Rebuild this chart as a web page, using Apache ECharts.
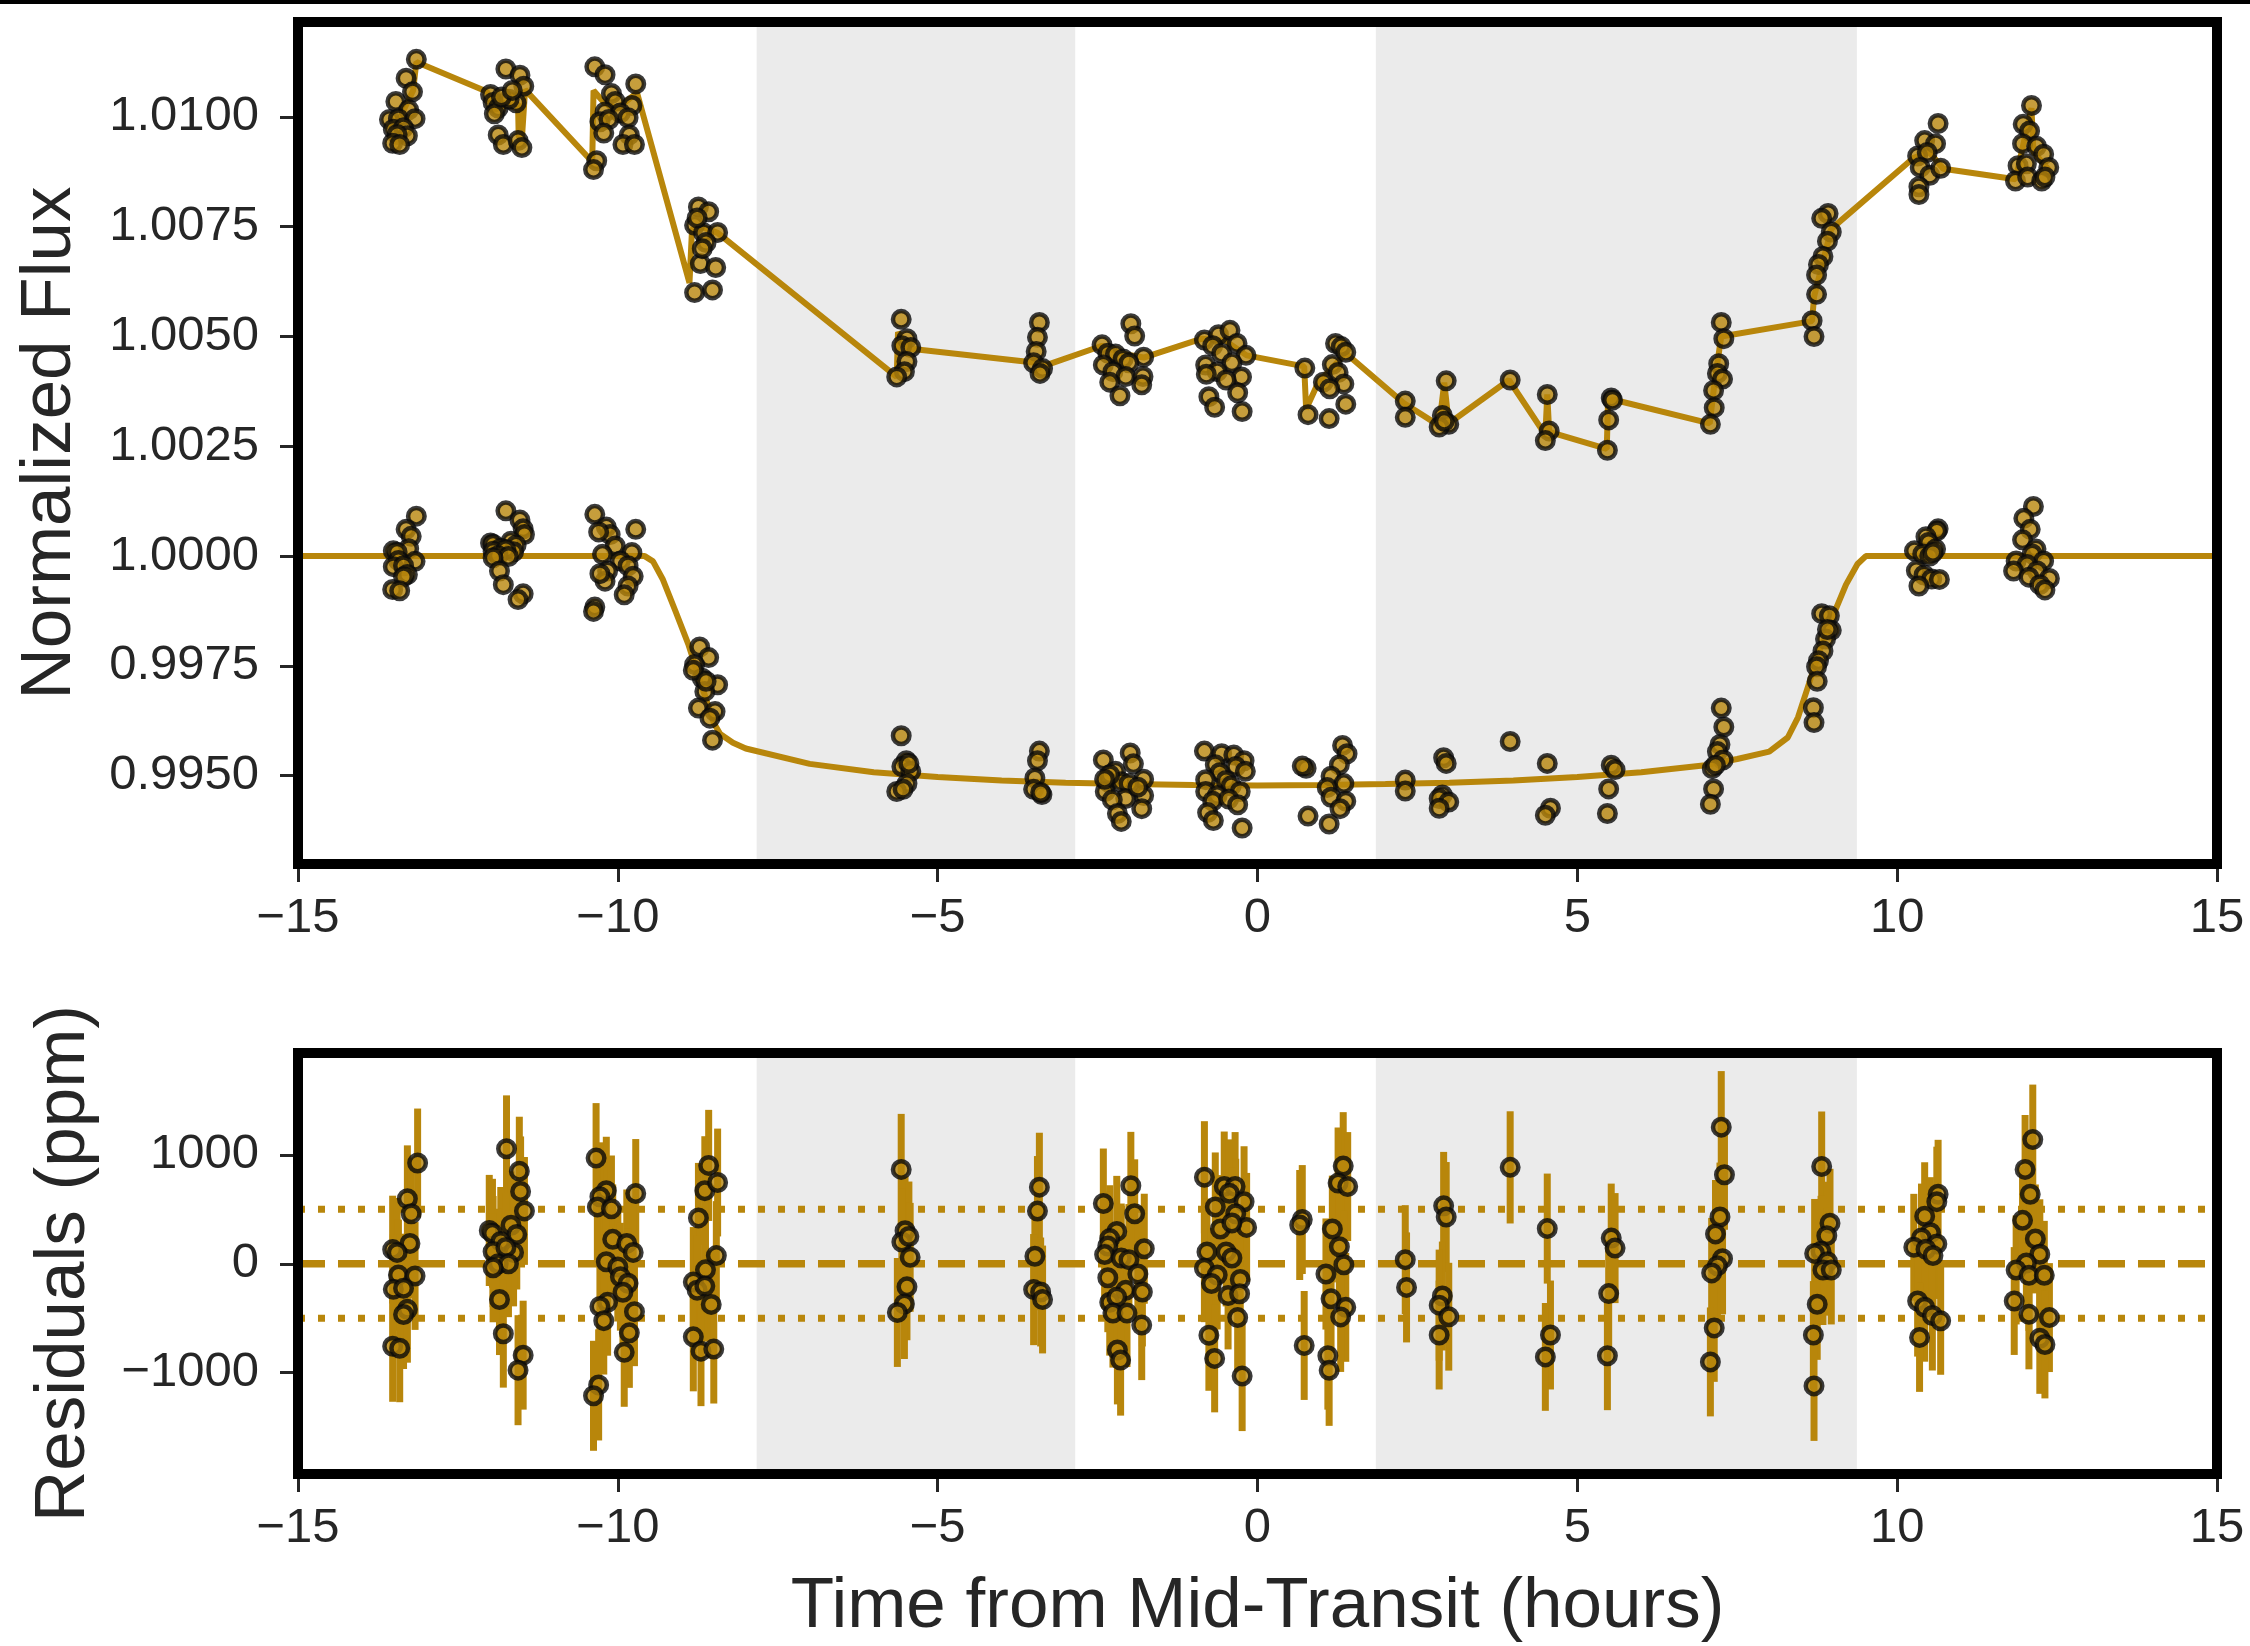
<!DOCTYPE html>
<html><head><meta charset="utf-8">
<script src="https://cdn.jsdelivr.net/npm/echarts@6/dist/echarts.min.js"></script>
<style>html,body{margin:0;padding:0;background:#fff}#c{width:2250px;height:1646px}</style>
</head><body><div id="c"></div>
<script>
// ---------------- data ----------------
const timeTicksInterval = 5;
const fluxTicks = [0.9950, 0.9975, 1.0000, 1.0025, 1.0050, 1.0075, 1.0100];
const residTicks = [-1000, 0, 1000];
const shadeStart = [-7.83, 1.85];
const shadeEnd = [-2.85, 9.37];
const residLevels = [0];
const residBand = [500, -500];

// raw light curve (upper, offset) [time h, flux]
const rawPoints = [
  [-13.15,1.01131],[-13.31,1.01088],[-13.21,1.01057],[-13.47,1.01035],[-13.27,1.01016],[-13.57,1.00994],[-13.43,1.00996],[-13.17,1.00996],[-13.51,1.00972],[-13.35,1.00975],[-13.29,1.00957],[-13.45,1.00960],[-13.52,1.00940],[-13.41,1.00937],
  [-11.75,1.01109],[-11.53,1.01095],[-11.47,1.01070],[-11.99,1.01051],[-11.95,1.01033],[-11.59,1.01032],[-11.87,1.01020],[-11.93,1.01007],[-11.70,1.01040],[-11.82,1.01045],[-11.65,1.01060],[-11.87,1.00959],[-11.79,1.00937],[-11.56,1.00946],[-11.50,1.00930],
  [-10.36,1.01114],[-10.20,1.01096],[-9.72,1.01075],[-10.10,1.01053],[-10.04,1.01035],[-9.78,1.01026],[-10.20,1.01011],[-9.96,1.01009],[-10.28,1.00989],[-10.14,1.00994],[-9.84,1.00998],[-10.22,1.00963],[-9.82,1.00959],[-9.92,1.00937],[-9.74,1.00937],[-10.33,1.00900],[-10.38,1.00880],
  [-8.74,1.00795],[-8.58,1.00784],[-8.80,1.00753],[-8.66,1.00736],[-8.44,1.00737],[-8.62,1.00714],[-8.71,1.00666],[-8.47,1.00657],[-8.80,1.00600],[-8.52,1.00606],[-8.76,1.00770],[-8.68,1.00700],
  [-5.57,1.00539],[-5.48,1.00495],[-5.56,1.00479],[-5.42,1.00475],[-5.48,1.00443],[-5.52,1.00420],[-5.64,1.00408],
  [-3.41,1.00532],[-3.44,1.00498],[-3.46,1.00466],[-3.50,1.00440],[-3.36,1.00427],[-3.40,1.00416],
  [-2.43,1.00481],[-1.98,1.00529],[-1.92,1.00501],[-2.34,1.00462],[-2.22,1.00460],[-2.10,1.00449],[-1.78,1.00453],[-2.41,1.00435],[-2.01,1.00440],[-2.26,1.00420],[-2.06,1.00409],[-1.79,1.00409],[-2.31,1.00396],[-1.81,1.00390],[-2.15,1.00365],
  [-0.83,1.00492],[-0.61,1.00504],[-0.43,1.00514],[-0.32,1.00484],[-0.70,1.00479],[-0.18,1.00457],[-0.56,1.00462],[-0.40,1.00440],[-0.81,1.00435],[-0.63,1.00420],[-0.80,1.00414],[-0.25,1.00408],[-0.49,1.00401],[-0.76,1.00363],[-0.31,1.00372],[-0.67,1.00339],[-0.24,1.00329],
  [0.74,1.00428],[1.22,1.00484],[1.31,1.00477],[1.38,1.00464],[1.17,1.00436],[1.26,1.00418],[1.03,1.00396],[1.35,1.00392],[1.13,1.00381],[1.38,1.00346],[0.79,1.00322],[1.12,1.00313],
  [2.31,1.00353],[2.31,1.00316],
  [2.95,1.00399],[2.89,1.00320],[2.99,1.00300],[2.84,1.00294],[2.92,1.00307],
  [3.95,1.00401],
  [4.53,1.00368],[4.56,1.00285],[4.50,1.00263],
  [5.53,1.00360],[5.55,1.00355],[5.49,1.00310],[5.47,1.00241],
  [7.25,1.00532],[7.29,1.00495],[7.21,1.00438],[7.19,1.00416],[7.27,1.00403],[7.13,1.00377],[7.14,1.00338],[7.08,1.00300],
  [8.92,1.00780],[8.82,1.00769],[8.97,1.00738],[8.91,1.00717],[8.84,1.00682],[8.77,1.00664],[8.74,1.00640],[8.74,1.00596],[8.67,1.00536],[8.70,1.00500],
  [10.64,1.00985],[10.43,1.00946],[10.60,1.00939],[10.32,1.00911],[10.47,1.00919],[10.36,1.00885],[10.51,1.00867],[10.68,1.00883],[10.34,1.00841],[10.34,1.00823],
  [12.10,1.01026],[11.97,1.00983],[12.07,1.00968],[11.96,1.00939],[12.18,1.00933],[12.29,1.00915],[11.89,1.00889],[12.37,1.00885],[12.02,1.00893],[11.85,1.00854],[12.04,1.00863],[12.26,1.00854],[12.31,1.00863]
];

// systematics model drawn through the raw light curve
const sysT = [-13.55,-13.40,-13.20,-13.15,-12.05,-11.90,-11.70,-11.56,-11.55,-11.50,-11.45,-10.40,-10.38,-10.20,-10.00,-9.70,-8.88,-8.84,-8.70,-8.44,-5.64,-5.62,-5.50,-5.42,-3.46,-3.38,-2.43,-2.10,-1.78,-0.87,-0.50,-0.17,0.73,0.76,0.95,1.38,2.29,2.31,2.84,2.92,2.99,3.93,4.50,4.53,4.56,5.46,5.48,5.57,7.07,7.15,7.25,8.67,8.70,8.97,10.25,10.50,10.72,11.85,12.10,12.13,12.38];
const sysF = [1.00980,1.01000,1.01060,1.01125,1.01058,1.01020,1.01030,1.01030,1.00955,1.00950,1.01062,1.00898,1.01060,1.01030,1.01020,1.01055,1.00622,1.00744,1.00750,1.00736,1.00408,1.00510,1.00480,1.00472,1.00440,1.00431,1.00479,1.00460,1.00452,1.00495,1.00490,1.00457,1.00432,1.00335,1.00395,1.00462,1.00348,1.00347,1.00297,1.00395,1.00302,1.00401,1.00276,1.00368,1.00283,1.00244,1.00352,1.00356,1.00302,1.00400,1.00500,1.00535,1.00590,1.00745,1.00906,1.00920,1.00882,1.00858,1.01020,1.00920,1.00878];

// detrended light curve [time h, flux]
const detPoints = [
  [-13.15,1.00091],[-13.31,1.00061],[-13.23,1.00045],[-13.27,1.00017],[-13.51,1.00012],[-13.45,1.00009],[-13.43,0.99990],[-13.17,0.99988],[-13.51,0.99976],[-13.35,0.99978],[-13.29,0.99958],[-13.35,0.99953],[-13.52,0.99924],[-13.41,0.99921],
  [-11.75,1.00103],[-11.53,1.00082],[-11.48,1.00062],[-11.46,1.00049],[-11.99,1.00030],[-11.95,1.00027],[-11.67,1.00034],[-11.59,1.00025],[-11.83,1.00018],[-11.95,1.00011],[-11.63,1.00010],[-11.75,1.00015],[-11.87,1.00001],[-11.71,0.99999],[-11.95,0.99996],[-11.85,0.99966],[-11.79,0.99935],[-11.48,0.99914],[-11.56,0.99901],
  [-10.36,1.00095],[-10.18,1.00066],[-9.72,1.00061],[-10.12,1.00049],[-10.30,1.00055],[-10.04,1.00023],[-9.78,1.00008],[-10.24,1.00004],[-9.96,0.99989],[-9.84,0.99978],[-10.16,0.99966],[-9.76,0.99954],[-10.20,0.99943],[-10.28,0.99960],[-9.84,0.99932],[-9.90,0.99912],[-10.36,0.99884],[-10.38,0.99874],
  [-8.72,0.99793],[-8.58,0.99769],[-8.80,0.99753],[-8.68,0.99722],[-8.44,0.99707],[-8.64,0.99692],[-8.74,0.99654],[-8.48,0.99646],[-8.56,0.99631],[-8.52,0.99581],[-8.82,0.99740],[-8.62,0.99715],
  [-5.57,0.99591],[-5.49,0.99534],[-5.56,0.99521],[-5.42,0.99510],[-5.48,0.99482],[-5.64,0.99464],[-5.54,0.99469],[-5.45,0.99528],
  [-3.41,0.99556],[-3.44,0.99534],[-3.48,0.99495],[-3.50,0.99469],[-3.37,0.99457],[-3.39,0.99462],
  [-2.41,0.99536],[-1.99,0.99552],[-1.94,0.99527],[-2.22,0.99510],[-2.34,0.99486],[-1.78,0.99492],[-2.13,0.99486],[-2.01,0.99482],[-2.38,0.99464],[-1.78,0.99455],[-2.06,0.99448],[-2.27,0.99445],[-1.81,0.99425],[-2.19,0.99414],[-2.13,0.99396],[-2.31,0.99502],[-2.39,0.99492],[-1.87,0.99474],
  [-0.83,0.99556],[-0.56,0.99550],[-0.37,0.99547],[-0.21,0.99534],[-0.66,0.99525],[-0.34,0.99521],[-0.59,0.99507],[-0.19,0.99510],[-0.81,0.99491],[-0.49,0.99489],[-0.41,0.99477],[-0.81,0.99464],[-0.63,0.99455],[-0.70,0.99442],[-0.27,0.99464],[-0.45,0.99447],[-0.31,0.99434],[-0.78,0.99416],[-0.69,0.99398],[-0.24,0.99381],
  [0.76,0.99517],[1.33,0.99569],[1.40,0.99550],[1.28,0.99525],[1.15,0.99499],[1.35,0.99482],[1.09,0.99473],[1.15,0.99451],[1.38,0.99442],[1.29,0.99425],[0.79,0.99408],[1.12,0.99390],[0.70,0.99522],
  [2.31,0.99490],[2.31,0.99465],
  [2.91,0.99541],[2.95,0.99528],[2.89,0.99456],[2.84,0.99448],[2.99,0.99440],[2.84,0.99426],
  [3.95,0.99578],
  [4.53,0.99528],[4.58,0.99426],[4.50,0.99410],
  [5.53,0.99524],[5.59,0.99514],[5.49,0.99470],[5.47,0.99414],
  [7.25,0.99654],[7.29,0.99611],[7.23,0.99571],[7.19,0.99555],[7.28,0.99536],[7.11,0.99516],[7.16,0.99524],[7.13,0.99470],[7.08,0.99435],
  [8.82,0.99869],[8.94,0.99864],[8.97,0.99831],[8.88,0.99811],[8.84,0.99784],[8.77,0.99762],[8.74,0.99748],[8.75,0.99715],[8.69,0.99655],[8.70,0.99621],[8.91,0.99833],
  [10.64,1.00062],[10.62,1.00057],[10.45,1.00044],[10.49,1.00031],[10.60,1.00016],[10.27,1.00012],[10.40,1.00005],[10.51,1.00000],[10.56,1.00008],[10.30,0.99967],[10.42,0.99957],[10.54,0.99948],[10.66,0.99947],[10.34,0.99932],
  [12.13,1.00113],[11.98,1.00086],[12.08,1.00061],[11.96,1.00037],[12.17,1.00016],[12.11,1.00005],[12.29,0.99989],[11.86,0.99989],[12.03,0.99981],[11.82,0.99966],[12.19,0.99966],[12.06,0.99952],[12.38,0.99949],[12.23,0.99935],[12.31,0.99923]
];

// transit model
const modT = [-15,-9.58,-9.45,-9.30,-9.10,-8.90,-8.70,-8.50,-8.40,-8.20,-8.00,-7.00,-6.00,-5.00,-4.00,-3.00,-2.00,-1.00,0.00,1.00,2.00,3.00,4.00,5.00,6.00,7.00,7.50,8.00,8.29,8.45,8.60,8.80,9.00,9.20,9.38,9.51,15];
const modF = [1.00000,1.00000,0.99988,0.99948,0.99875,0.99800,0.99710,0.99620,0.99595,0.99575,0.99562,0.99527,0.99508,0.99497,0.99489,0.99484,0.99481,0.99479,0.99478,0.99479,0.99481,0.99484,0.99489,0.99497,0.99508,0.99524,0.99538,0.99555,0.99587,0.99633,0.99700,0.99790,0.99865,0.99935,0.99982,1.00000,1.00000];

// residuals [time h, residual ppm, error ppm]
const resPoints = [
  [-13.13,925,500],[-13.29,597,490],[-13.23,459,510],[-13.25,187,505],[-13.52,130,495],[-13.45,104,500],[-13.43,-104,510],[-13.17,-112,495],[-13.51,-235,505],[-13.35,-224,500],[-13.29,-418,490],[-13.35,-466,500],[-13.52,-757,510],[-13.41,-776,495],
  [-11.74,1056,490],[-11.54,850,500],[-11.52,664,505],[-11.46,485,495],[-12.01,306,510],[-11.96,280,500],[-11.67,354,495],[-11.58,269,505],[-11.83,205,500],[-11.95,112,510],[-11.63,104,495],[-11.75,150,500],[-11.87,0,505],[-11.71,0,490],[-11.95,-37,500],[-11.85,-328,510],[-11.79,-642,495],[-11.48,-839,500],[-11.56,-977,505],
  [-10.34,970,505],[-10.18,671,495],[-10.28,615,500],[-10.32,522,510],[-10.10,504,490],[-9.72,645,500],[-10.08,224,505],[-9.86,187,495],[-9.76,104,500],[-10.18,19,510],[-10.00,-30,500],[-9.96,-119,495],[-9.84,-179,505],[-9.92,-261,500],[-10.16,-354,490],[-10.28,-392,510],[-9.74,-440,500],[-10.22,-522,495],[-9.82,-634,505],[-9.90,-813,500],[-10.30,-1112,510],[-10.38,-1212,505],
  [-8.58,903,510],[-8.64,671,500],[-8.44,746,495],[-8.74,421,505],[-8.46,75,500],[-8.63,-56,490],[-8.82,-168,505],[-8.76,-242,500],[-8.64,-205,510],[-8.54,-373,495],[-8.82,-671,500],[-8.70,-802,505],[-8.50,-783,500],
  [-5.57,866,510],[-5.51,303,500],[-5.56,200,495],[-5.45,250,505],[-5.43,59,500],[-5.48,-212,490],[-5.52,-369,505],[-5.63,-447,500],
  [-3.41,703,500],[-3.44,484,505],[-3.48,69,495],[-3.50,-237,510],[-3.39,-259,500],[-3.36,-328,495],
  [-2.41,553,505],[-1.98,716,495],[-1.92,459,500],[-2.20,297,510],[-2.31,231,490],[-2.34,163,500],[-1.77,138,505],[-2.39,84,495],[-2.13,53,500],[-2.01,38,510],[-2.34,-128,500],[-1.87,-94,495],[-2.06,-244,505],[-1.80,-259,500],[-2.31,-353,490],[-2.20,-306,510],[-2.26,-453,500],[-2.04,-453,495],[-1.81,-563,505],[-2.19,-791,500],[-2.14,-884,510],
  [-0.83,794,515],[-0.52,709,505],[-0.35,709,500],[-0.44,647,495],[-0.21,569,510],[-0.66,522,500],[-0.34,459,505],[-0.58,319,495],[-0.17,334,500],[-0.40,375,510],[-0.79,109,490],[-0.49,109,500],[-0.40,53,505],[-0.83,-41,495],[-0.63,-103,500],[-0.72,-181,510],[-0.27,-144,500],[-0.46,-291,495],[-0.28,-275,505],[-0.31,-494,500],[-0.76,-656,510],[-0.67,-869,495],[-0.24,-1031,505],
  [0.70,406,500],[0.66,356,505],[1.34,897,495],[1.26,741,510],[1.41,709,500],[1.17,319,490],[1.28,156,505],[1.35,-9,500],[1.07,-94,510],[1.15,-322,495],[1.38,-400,500],[1.30,-488,505],[0.73,-750,500],[1.10,-844,495],[1.12,-978,510],
  [2.31,38,500],[2.33,-217,505],
  [2.91,532,495],[2.95,429,505],[2.89,-296,500],[2.84,-380,510],[2.99,-486,495],[2.84,-654,500],
  [3.95,885,515],
  [4.53,323,505],[4.58,-654,500],[4.50,-855,495],
  [5.53,236,500],[5.59,144,505],[5.49,-274,495],[5.47,-844,500],
  [7.25,1254,515],[7.30,817,505],[7.23,429,500],[7.16,274,495],[7.27,46,510],[7.19,-19,500],[7.10,-84,505],[7.14,-589,495],[7.08,-901,500],
  [8.82,893,505],[8.95,372,500],[8.90,258,495],[8.81,114,510],[8.71,95,500],[8.91,19,495],[8.84,-57,505],[8.97,-57,500],[8.75,-372,510],[8.69,-654,495],[8.70,-1121,505],
  [10.64,638,500],[10.62,570,505],[10.43,437,495],[10.52,285,510],[10.38,236,500],[10.26,152,490],[10.62,182,505],[10.45,133,500],[10.56,76,495],[10.32,-342,510],[10.43,-399,500],[10.55,-475,505],[10.68,-524,495],[10.35,-676,500],
  [12.12,1140,505],[12.00,866,500],[12.08,638,510],[11.96,399,495],[12.16,228,500],[12.23,87,505],[12.02,8,495],[11.86,-57,500],[12.06,-106,510],[12.30,-106,500],[11.83,-342,495],[12.06,-464,505],[12.38,-494,500],[12.23,-684,510],[12.31,-741,495]
];

// ---------------- styling / layout ----------------
const GOLD = '#b8860b', EDGE = '#0a0a0a', TXT = '#262626';
const FONT = "'Liberation Sans', Arial, Helvetica, sans-serif";
const L = 298, W = 1919, T0 = 22, H0 = 842, T1 = 1053, H1 = 421;
const FLUX_MIN = 0.99299, FLUX_MAX = 1.01216, RES_MIN = -1930, RES_MAX = 1935;

const minus = v => (v < 0 ? '\u2212' + String(-v) : String(v));

function xAxisCfg(gi) {
  return {
    type: 'value', gridIndex: gi, min: -15, max: 15, interval: timeTicksInterval,
    axisLine: { show: false, onZero: false },
    axisTick: { show: true, length: 18, lineStyle: { color: TXT, width: 3 } },
    axisLabel: { show: true, color: TXT, fontSize: 49, fontFamily: FONT, margin: 30,
                 showMinLabel: true, showMaxLabel: true, formatter: v => minus(v) },
    splitLine: { show: false }
  };
}

const shadeData = shadeStart.map((s, i) => [s, shadeEnd[i]]);
function shadeSeries(gi, yRef) {
  return {
    type: 'custom', xAxisIndex: gi, yAxisIndex: gi, z: 1, silent: true, clip: true,
    data: shadeData, encode: { x: [0, 1] },
    renderItem: (params, api) => {
      const a = api.coord([api.value(0), yRef]);
      const b = api.coord([api.value(1), yRef]);
      const cs = params.coordSys;
      return { type: 'rect', shape: { x: a[0], y: cs.y, width: b[0] - a[0], height: cs.height },
               style: { fill: '#ebebeb' } };
    }
  };
}

const markerStyle = { color: GOLD, borderColor: EDGE, borderWidth: 4.5 };
const MS = 16.5;

const series = [
  shadeSeries(0, 1.0),
  shadeSeries(1, 0),
  { type: 'line', xAxisIndex: 0, yAxisIndex: 0, z: 3, symbol: 'none', silent: true,
    data: sysT.map((t, i) => [t, sysF[i]]), lineStyle: { color: GOLD, width: 6 } },
  { type: 'line', xAxisIndex: 0, yAxisIndex: 0, z: 3, symbol: 'none', silent: true,
    data: modT.map((t, i) => [t, modF[i]]), lineStyle: { color: GOLD, width: 6 } },
  { type: 'scatter', xAxisIndex: 0, yAxisIndex: 0, z: 5, symbolSize: MS, silent: true,
    data: rawPoints, itemStyle: markerStyle },
  { type: 'scatter', xAxisIndex: 0, yAxisIndex: 0, z: 5, symbolSize: MS, silent: true,
    data: detPoints, itemStyle: markerStyle },
  // reference lines in residual panel
  ...residLevels.map(v => ({ type: 'line', xAxisIndex: 1, yAxisIndex: 1, z: 2, symbol: 'none', silent: true,
    data: [[-15, v], [15, v]], lineStyle: { color: GOLD, width: 7.5, type: [27, 13] } })),
  ...residBand.map(v => ({ type: 'line', xAxisIndex: 1, yAxisIndex: 1, z: 2, symbol: 'none', silent: true,
    data: [[-15, v], [15, v]], lineStyle: { color: GOLD, width: 7, type: [7, 13] } })),
  // error bars
  { type: 'custom', xAxisIndex: 1, yAxisIndex: 1, z: 3, silent: true, clip: true,
    data: resPoints.map(p => [p[0], p[1] - p[2], p[1] + p[2]]),
    encode: { x: 0, y: [1, 2] },
    renderItem: (params, api) => {
      const p1 = api.coord([api.value(0), api.value(1)]);
      const p2 = api.coord([api.value(0), api.value(2)]);
      return { type: 'line', shape: { x1: p1[0], y1: p1[1], x2: p2[0], y2: p2[1] },
               style: { stroke: GOLD, lineWidth: 7 } };
    } },
  { type: 'scatter', xAxisIndex: 1, yAxisIndex: 1, z: 5, symbolSize: MS, silent: true,
    data: resPoints.map(p => [p[0], p[1]]), itemStyle: markerStyle }
];

const option = {
  animation: false,
  backgroundColor: '#ffffff',
  grid: [
    { left: L, top: T0, width: W, height: H0 },
    { left: L, top: T1, width: W, height: H1 }
  ],
  xAxis: [xAxisCfg(0), xAxisCfg(1)],
  yAxis: [
    { type: 'value', gridIndex: 0, min: FLUX_MIN, max: FLUX_MAX,
      axisLine: { show: false, onZero: false }, splitLine: { show: false },
      axisTick: { show: true, length: 18, customValues: fluxTicks, lineStyle: { color: TXT, width: 3 } },
      axisLabel: { show: true, customValues: fluxTicks, color: TXT, fontSize: 49, fontFamily: FONT, margin: 39,
                   formatter: v => Number(v).toFixed(4) } },
    { type: 'value', gridIndex: 1, min: RES_MIN, max: RES_MAX,
      axisLine: { show: false, onZero: false }, splitLine: { show: false },
      axisTick: { show: true, length: 18, customValues: residTicks, lineStyle: { color: TXT, width: 3 } },
      axisLabel: { show: true, customValues: residTicks, color: TXT, fontSize: 49, fontFamily: FONT, margin: 39,
                   formatter: v => minus(Math.round(v)) } }
  ],
  graphic: [
    { type: 'rect', z: 100, silent: true, shape: { x: 0, y: 0, width: 2250, height: 4 }, style: { fill: '#000' } },
    { type: 'rect', z: 100, silent: true, shape: { x: L, y: T0, width: W, height: H0 },
      style: { fill: null, stroke: '#000', lineWidth: 10 } },
    { type: 'rect', z: 100, silent: true, shape: { x: L, y: T1, width: W, height: H1 },
      style: { fill: null, stroke: '#000', lineWidth: 10 } },
    { type: 'text', z: 100, silent: true, x: 50, y: T0 + H0 / 2, rotation: Math.PI / 2,
      style: { text: 'Normalized Flux', fontSize: 71, fontFamily: FONT, fill: TXT, align: 'center', verticalAlign: 'middle' } },
    { type: 'text', z: 100, silent: true, x: 64, y: T1 + H1 / 2, rotation: Math.PI / 2,
      style: { text: 'Residuals (ppm)', fontSize: 71, fontFamily: FONT, fill: TXT, align: 'center', verticalAlign: 'middle' } },
    { type: 'text', z: 100, silent: true, x: L + W / 2, y: 1607,
      style: { text: 'Time from Mid-Transit (hours)', fontSize: 71, fontFamily: FONT, fill: TXT, align: 'center', verticalAlign: 'middle' } }
  ],
  series: series
};

const chart = echarts.init(document.getElementById('c'), null, { renderer: 'canvas', width: 2250, height: 1646 });
chart.setOption(option);
</script></body></html>
